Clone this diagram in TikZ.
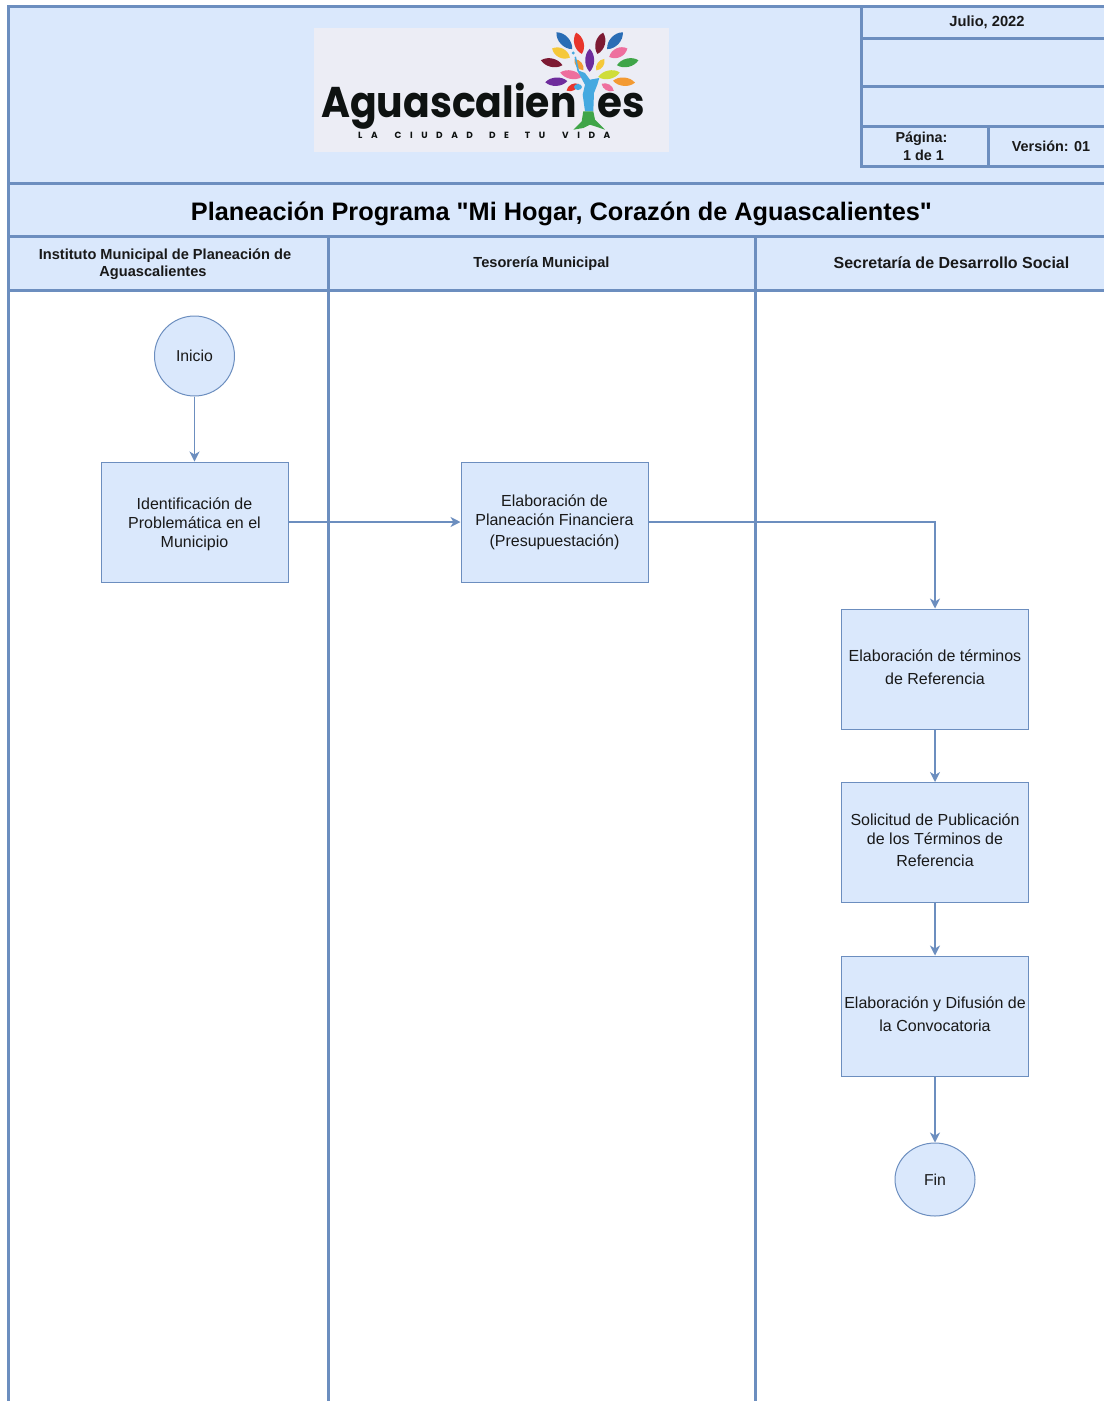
\documentclass[tikz,border=0pt]{standalone}
\usepackage{fontspec}
\setmainfont{Liberation Sans}
\newfontfamily\logofont{Poppins}
\newfontfamily\titlefont{Liberation Sans}
\usetikzlibrary{arrows.meta,shapes.geometric}
\definecolor{bluefill}{HTML}{DAE8FC}
\definecolor{blueline}{HTML}{6C8EBF}
\definecolor{logobg}{HTML}{ECEDF5}
\definecolor{lfblue}{HTML}{2A6DB5}
\definecolor{lfred}{HTML}{E8352B}
\definecolor{lfdark}{HTML}{7D1A33}
\definecolor{lfyellow}{HTML}{F5C83A}
\definecolor{lfpink}{HTML}{EE6F9E}
\definecolor{lfgreen}{HTML}{3FA548}
\definecolor{lfpurple}{HTML}{6E2C9C}
\definecolor{lforange}{HTML}{F39A32}
\definecolor{lflime}{HTML}{CFDD3A}
\definecolor{lftrunk}{HTML}{45A9E0}
\definecolor{logoink}{HTML}{0E1211}
\tikzset{
  x=1pt,y=-1pt,
  frameline/.style={draw=blueline,line width=3pt},
  flowbox/.style={draw=blueline,fill=bluefill,line width=1pt,minimum width=187pt,minimum height=120pt,inner sep=0pt,align=center,font=\fontsize{16}{21}\selectfont,text=black!90},
  flowround/.style={draw=blueline,fill=bluefill,line width=1pt,inner sep=0pt,ellipse,font=\fontsize{15.8}{19}\selectfont,text=black!90},
  flowarrow/.style={draw=blueline,line width=1.2pt,-{Stealth[length=10pt,width=10pt,inset=3pt]}},
  headtext/.style={align=center,inner sep=0pt,font=\bfseries\fontsize{14.4}{17}\selectfont,text=black!90},
  lanetext/.style={align=center,inner sep=0pt,font=\bfseries\fontsize{14.6}{17}\selectfont,text=black!90},
  logotext/.style={inner sep=0pt,text=logoink,anchor=base west}
}
\newcommand{\leaf}[6]{% x y angle length width colour
  \fill[#6,shift={(#1,#2)},rotate=#3] (-#4/2,0) .. controls (-#4/4,#5*0.66) and (#4/4,#5*0.66) .. (#4/2,0) .. controls (#4/4,-#5*0.66) and (-#4/4,-#5*0.66) .. (-#4/2,0) -- cycle;}
\newcommand{\pushdown}{\rule{0pt}{17pt}}
\newcommand{\pushup}[1]{\rule[-#1]{0pt}{#1}}
\begin{document}
\begin{tikzpicture}
\useasboundingbox (0,0) rectangle (1104,1401);
% header background
\fill[bluefill] (8,6) rectangle (1104,290);
% frame lines
\draw[frameline] (1104,6) -- (8,6) -- (8,1401);
\draw[frameline] (8,183) -- (1104,183);
\draw[frameline] (8,236) -- (1104,236);
\draw[frameline] (8,290) -- (1104,290);
\draw[frameline] (328,236) -- (328,1401);
\draw[frameline] (755,236) -- (755,1401);
% info table
\draw[frameline] (861,6) -- (861,166) -- (1104,166);
\draw[frameline] (861,38) -- (1104,38);
\draw[frameline] (861,86) -- (1104,86);
\draw[frameline] (861,126) -- (1104,126);
\draw[frameline] (988,126) -- (988,166);
\node[headtext,font=\bfseries\fontsize{14.7}{17}\selectfont] (fecha) at (987,22.5) {Julio, 2022};
\node[headtext] (pagina) at (921.5,146) {Página:\\[1pt]\hspace*{4pt}1 de 1};
\node[headtext] (version) at (1051,146) {Versión: 01};
% logo
\fill[logobg] (314,28) rectangle (669,152);
\leaf{564.3}{40.7}{-47}{23}{9.5}{lfblue}
\leaf{579}{43.3}{-75}{22}{9.5}{lfred}
\leaf{600.3}{43.3}{75}{22}{9.5}{lfdark}
\leaf{615}{40.7}{47}{23}{9.5}{lfblue}
\leaf{561}{53}{-27}{20}{9.5}{lfyellow}
\leaf{618.3}{52.7}{25}{20}{9.5}{lfpink}
\leaf{551.7}{62.7}{-13}{22}{8.5}{lfdark}
\leaf{627.7}{62.7}{13}{22}{8.5}{lfgreen}
\leaf{589.7}{60.3}{90}{23}{9}{lfpurple}
\leaf{579}{64.7}{-52}{14}{6.5}{lforange}
\leaf{600.3}{64.7}{55}{14}{6.5}{lfyellow}
\leaf{571}{74.7}{-12}{22}{8.5}{lfpink}
\leaf{609}{74.7}{12}{22}{8.5}{lflime}
\leaf{556.3}{81.7}{3}{22}{8.5}{lfpurple}
\leaf{624}{81.7}{-5}{22}{8.5}{lforange}
\leaf{572.7}{87.3}{28}{14}{6.5}{lfred}
\leaf{607.7}{87.3}{-30}{14}{6.5}{lfpink}
\node[logotext,font={\logofont\bfseries\fontsize{43}{43}\selectfont}] (logoa) at (321,117.5) {\scalebox{0.915}[1]{Aguascalien}};
\node[logotext,font={\logofont\bfseries\fontsize{43}{43}\selectfont}] (logob) at (597,117.5) {\scalebox{0.94}[1]{es}};
\fill[lftrunk] (573.3,53) circle (1.6);
\fill[lftrunk] (574.5,57) -- (576,56.5) -- (579,70.7) -- (585,73) -- (590,79.7) -- (599.3,78) -- (597.3,84.7) -- (594,93) -- (593.3,111.3) -- (585,111.3) -- (582.7,94.7) -- (585,84.7) -- (577.3,70.7) -- cycle;
\fill[lftrunk] (578,87) ellipse (4 and 3);
\fill[lfgreen] (583.3,111.3) -- (593.3,111.3) -- (595,119.7) -- (605,129.7) -- (595,126.3) -- (590,124.7) -- (583.3,128) -- (573.3,129.7) -- (581.7,121.3) -- cycle;
\node[logotext,font={\logofont\bfseries\fontsize{9}{9}\selectfont\addfontfeature{LetterSpace=95}}] (lema) at (358,138.5) {LA\hspace{17pt}CIUDAD\hspace{16pt}DE\hspace{16pt}TU\hspace{17pt}VIDA};
% titles
\node[inner sep=0pt,font=\titlefont\bfseries\fontsize{25.3}{30}\selectfont] (titulo) at (561.5,213.5) {Planeación Programa "Mi Hogar, Corazón de Aguascalientes"};
\node[lanetext] (lane1) at (165,264) {Instituto Municipal de Planeación de\\Aguascalientes\hspace*{24pt}};
\node[lanetext] (lane2) at (541.5,264) {Tesorería Municipal};
\node[lanetext,font=\bfseries\fontsize{16}{18}\selectfont] (lane3) at (951.5,263) {Secretaría de Desarrollo Social};
% flow
\node[flowround,minimum width=80pt,minimum height=80pt] (inicio) at (194.5,356) {Inicio};
\node[flowbox] (n1) at (194.5,522) {\pushdown Identificación de\\[-2pt]Problemática en el\\[-2pt]Municipio};
\node[flowbox] (n2) at (554.5,522) {Elaboración de\\[-2pt]Planeación Financiera\\(Presupuestación)};
\node[flowbox] (n3) at (935,669) {Elaboración de términos\\[2pt]de Referencia\pushup{4.5pt}};
\node[flowbox] (n4) at (935,842.5) {Solicitud de Publicación\\[-2pt]de los Términos de\\[1pt]Referencia\pushup{4pt}};
\node[flowbox] (n5) at (935,1016) {Elaboración y Difusión de\\[2pt]la Convocatoria\pushup{3.8pt}};
\node[flowround,minimum width=80pt,minimum height=73pt] (fin) at (935,1179.5) {Fin};
\draw[flowarrow] (inicio) -- (n1);
\draw[flowarrow] (n1) -- (n2);
\draw[flowarrow] (n2.east) -| (n3.north);
\draw[flowarrow] (n3) -- (n4);
\draw[flowarrow] (n4) -- (n5);
\draw[flowarrow] (n5) -- (fin);
\end{tikzpicture}
\end{document}
